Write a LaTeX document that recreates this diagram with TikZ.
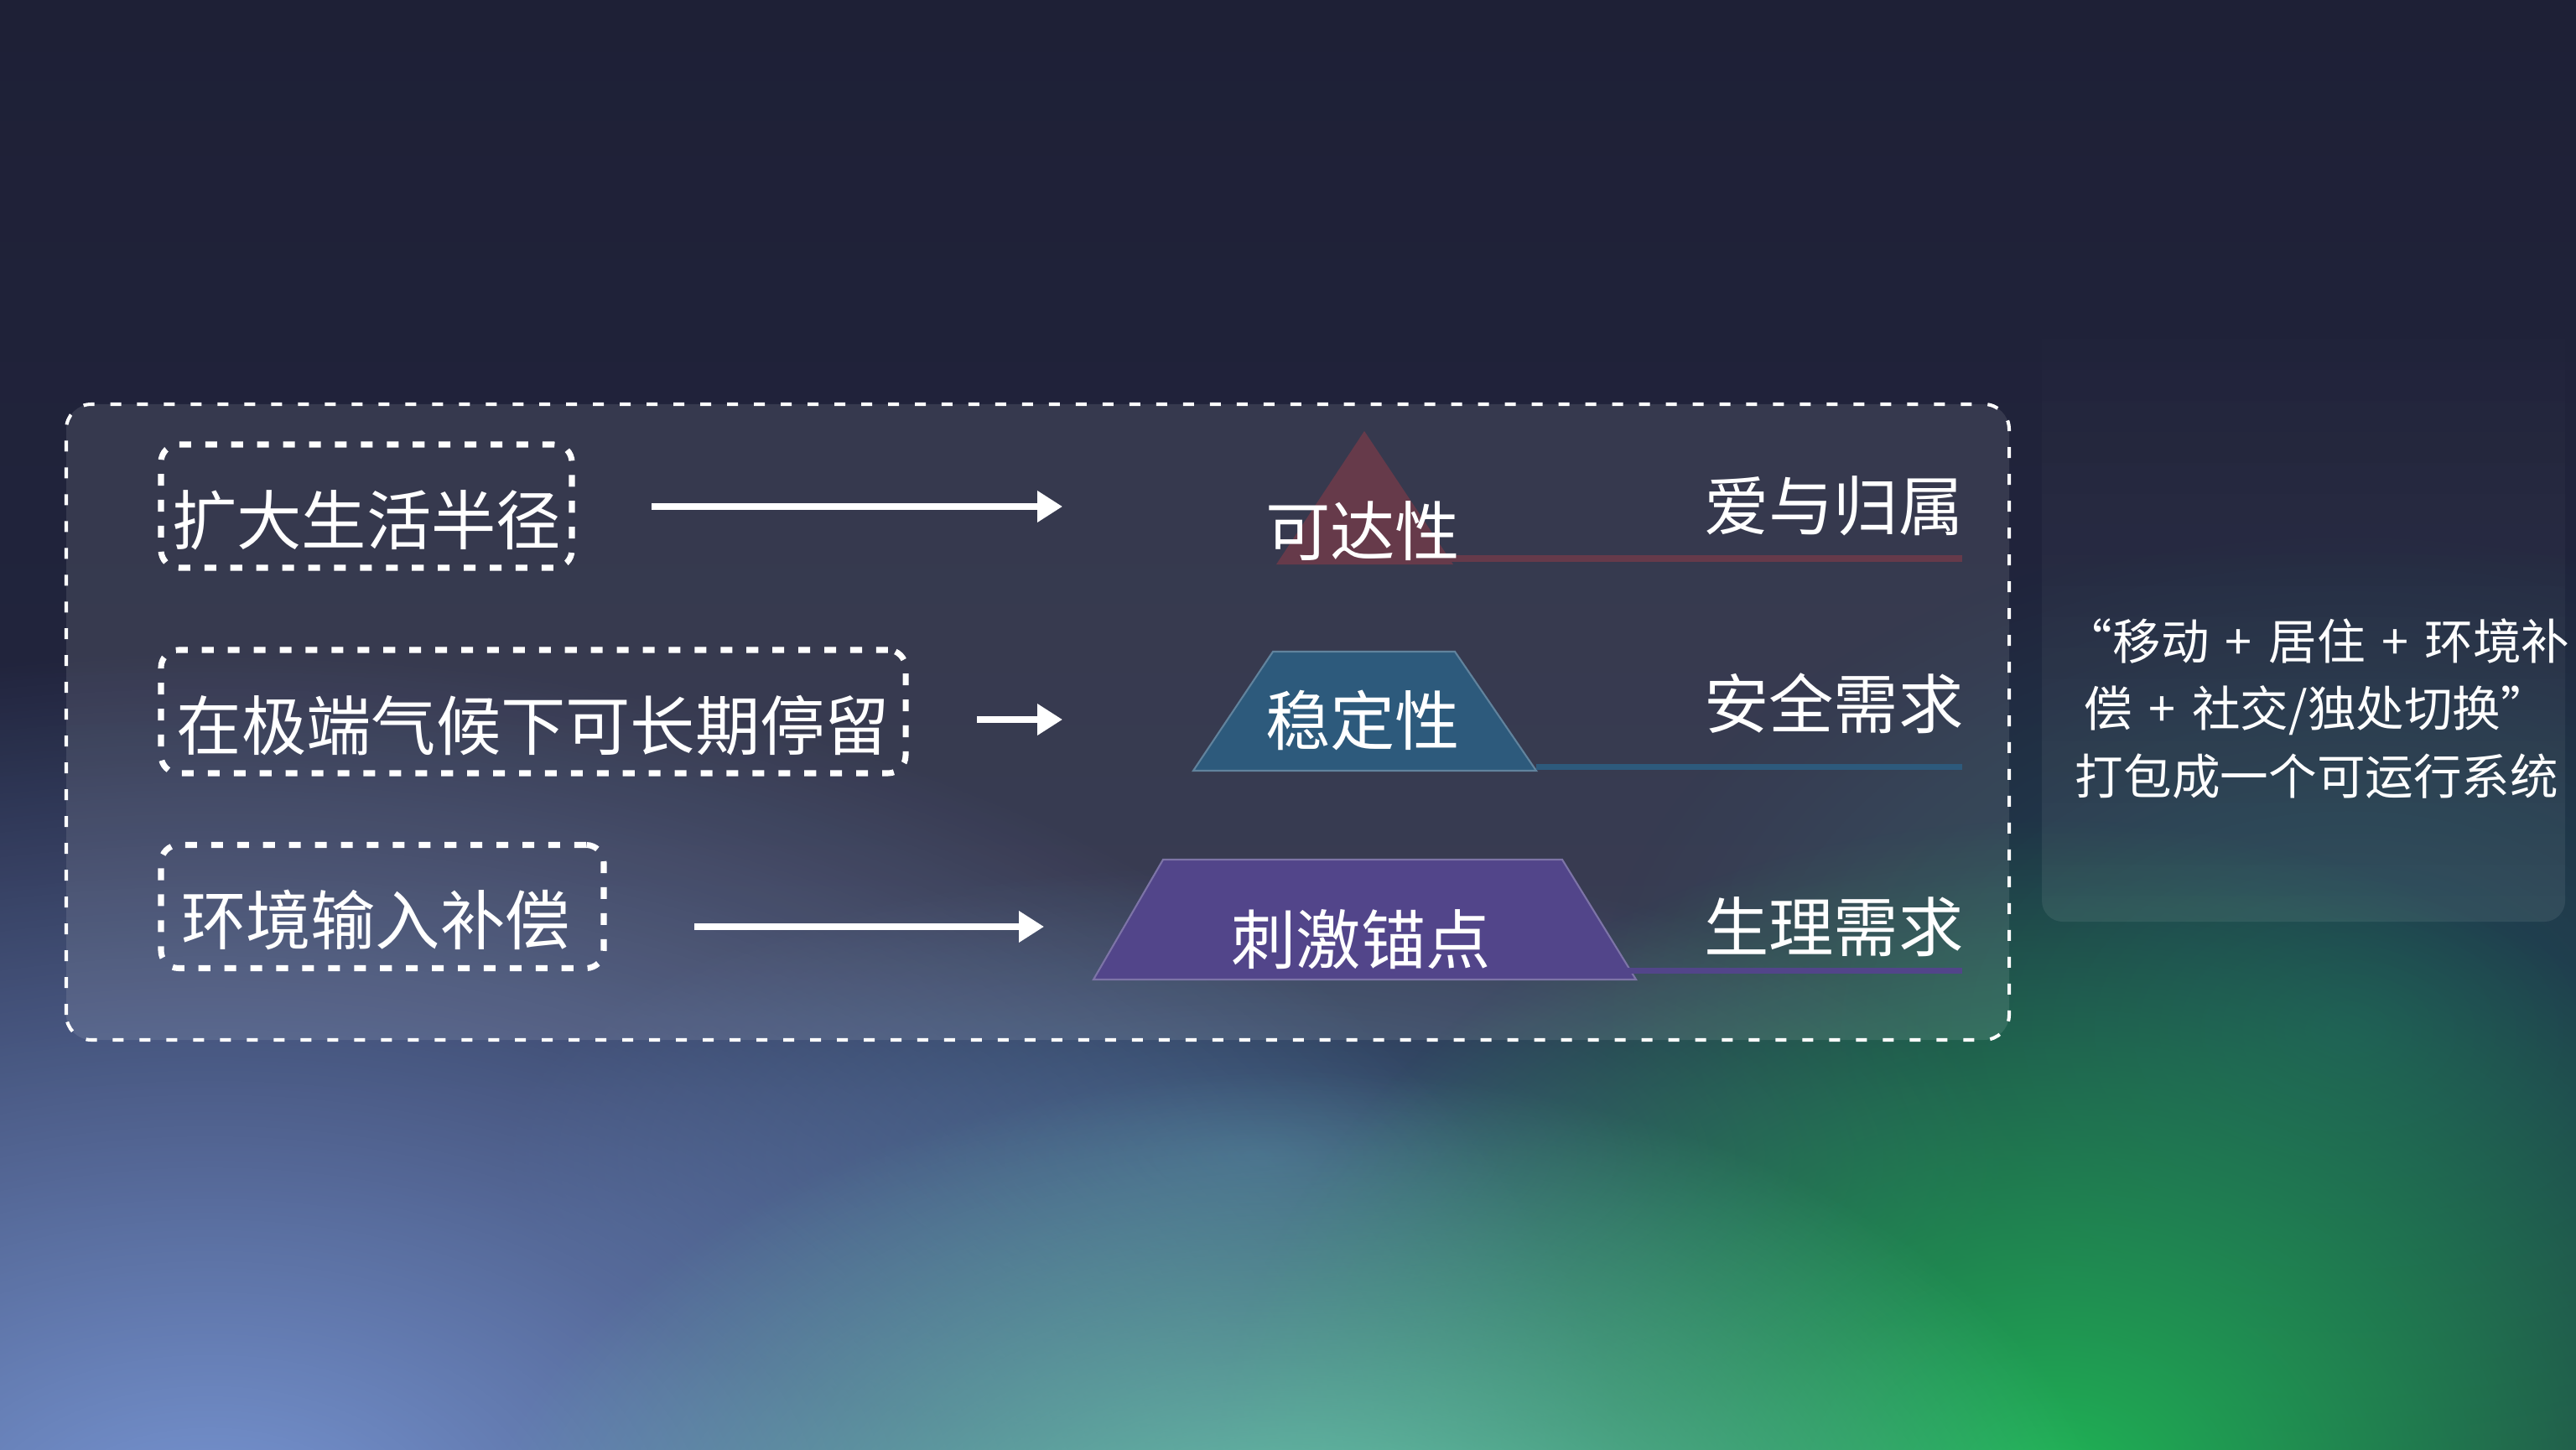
\documentclass[tikz,border=0pt]{standalone}
\usepackage{fontspec}
\newfontfamily\cjk{Noto Sans CJK SC}
\newfontfamily\cjknote{Noto Sans CJK SC}[WordSpace=1.5]
\usepackage{xcolor}
\usepackage{tikz}
\usetikzlibrary{arrows.meta,positioning,fadings}
\definecolor{bgtop}{HTML}{1E2036}
\definecolor{bgbottom}{HTML}{242944}
\definecolor{glowblue}{HTML}{7896D4}
\definecolor{glowgreen}{HTML}{1FB655}
\definecolor{glowteal}{HTML}{70D8B6}
\definecolor{glowdeep}{HTML}{1F4A55}
\definecolor{glowslate}{HTML}{3D5A7A}
\definecolor{toprose}{HTML}{663A4A}
\definecolor{midblue}{HTML}{2D5A7C}
\definecolor{basepurple}{HTML}{52458A}
\tikzfading[name=glowfade, inner color=transparent!0, outer color=transparent!100]
\tikzfading[name=panelfade, top color=transparent!100, bottom color=transparent!92]
\tikzset{
    goalbox/.style={draw=white, line width=2pt, dash pattern=on 4pt off 4.8pt, rounded corners=6pt, minimum height=1.47cm, inner xsep=0.12cm, text height=0.91cm, text depth=0cm, text=white, font=\cjk\fontsize{22}{26}\selectfont},
    flowarrow/.style={-{Triangle[length=0.3cm, width=0.36cm]}, white, line width=2pt},
    levellabel/.style={text=white, inner sep=0pt, font=\cjk\fontsize{22}{26}\selectfont},
    needlabel/.style={levellabel, anchor=east},
    needline/.style={line width=2pt},
    noteblock/.style={text=white, align=center, inner sep=0pt, font=\cjknote\fontsize{16.4}{22.8}\selectfont},
    glow/.style={path fading=glowfade}
}

\begin{document}
\begin{tikzpicture}
        \useasboundingbox (0,0) rectangle (30.72,17.28);
        \shade[top color=bgtop, bottom color=bgbottom] (0,0) rectangle (30.72,17.28);
        \begin{scope}
            \clip (0,0) rectangle (30.72,17.28);
            \fill[glowdeep, glow] (28.0,5.0) ellipse [x radius=9cm, y radius=6cm];
            \fill[glowslate, glow] (15.0,3.5) ellipse [x radius=9cm, y radius=3.5cm];
            \fill[glowblue, glow] (2.5,-1.0) ellipse [x radius=17cm, y radius=10.5cm];
            \fill[glowgreen, glow] (24.5,-0.5) ellipse [x radius=10cm, y radius=8cm];
            \fill[glowteal, glow] (15.5,-2.0) ellipse [x radius=10cm, y radius=6.5cm];
        \end{scope}

        \draw[white, line width=1.15pt, dash pattern=on 3.7pt off 5.4pt, rounded corners=0.3cm, fill=white, fill opacity=0.1] (0.79,4.88) rectangle (23.96,12.46);
        \fill[white, path fading=panelfade, rounded corners=0.25cm] (24.35,6.29) rectangle (30.59,13.78);

        \node[goalbox, minimum width=4.9cm] (reach) at (4.37,11.245) {扩大生活半径};
        \node[goalbox, minimum width=8.88cm] (stay) at (6.36,8.795) {在极端气候下可长期停留};
        \node[goalbox, text width=4.8cm, inner xsep=0.24cm, align=left] (input) at (4.56,6.47) {环境输入补偿};

        \coordinate (reachfrom) at (7.77,11.24);
        \coordinate (reachto) at (12.67,11.24);
        \coordinate (stayfrom) at (11.65,8.70);
        \coordinate (stayto) at (12.67,8.70);
        \coordinate (inputfrom) at (8.28,6.23);
        \coordinate (inputto) at (12.45,6.23);
        \draw[flowarrow] (reachfrom) -- (reachto);
        \draw[flowarrow] (stayfrom) -- (stayto);
        \draw[flowarrow] (inputfrom) -- (inputto);

        \fill[toprose] (16.27,12.14) -- (17.33,10.55) -- (15.22,10.55) -- cycle;
        \draw[needline, toprose] (17.28,10.62) -- (23.40,10.62);
        \filldraw[fill=midblue, draw=midblue!75!white, line width=0.6pt] (15.18,9.51) -- (17.35,9.51) -- (18.32,8.09) -- (14.23,8.09) -- cycle;
        \draw[needline, midblue] (18.32,8.135) -- (23.40,8.135);
        \filldraw[fill=basepurple, draw=basepurple!75!white, line width=0.6pt] (13.87,7.03) -- (18.63,7.03) -- (19.51,5.60) -- (13.04,5.60) -- cycle;
        \draw[needline, basepurple] (18.93,5.705) -- (23.40,5.705);

        \node[levellabel] (access) at (16.25,10.95) {可达性};
        \node[levellabel] (stable) at (16.25,8.69) {稳定性};
        \node[levellabel] (anchor) at (16.23,6.08) {刺激锚点};

        \node[needlabel] (belong) at (23.42,11.25) {爱与归属};
        \node[needlabel] (safety) at (23.42,8.89) {安全需求};
        \node[needlabel] (body) at (23.42,6.23) {生理需求};

        \node[noteblock] (system) at (27.63,8.83) {“移动 + 居住 + 环境补\\偿 + 社交/独处切换”\\打包成一个可运行系统};
    \end{tikzpicture}
\end{document}
